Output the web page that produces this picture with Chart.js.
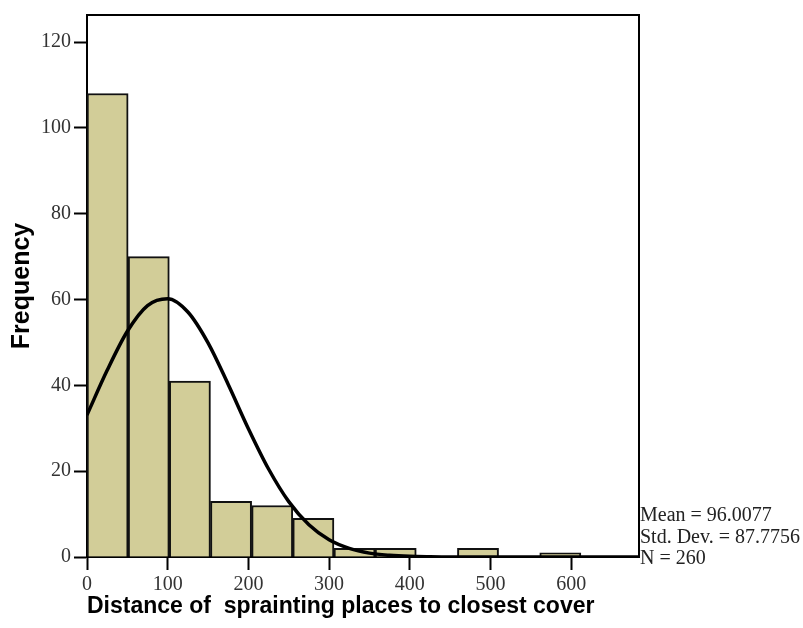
<!DOCTYPE html>
<html>
<head>
<meta charset="utf-8">
<script src="https://cdn.jsdelivr.net/npm/chart.js@4.4.1/dist/chart.umd.min.js"></script>
<style>
  body { margin: 0; background: #fff; }
  #wrap { width: 803px; height: 628px; }
</style>
</head>
<body>
<div id="wrap"><canvas id="histo" width="803" height="628"></canvas></div>
<script>
// histogram bins (width 51), counts
const binCenters = [25.5, 76.5, 127.5, 178.5, 229.5, 280.5, 331.5, 382.5, 433.5, 484.5, 535.5, 586.5];
const binCounts = [108, 70, 41, 13, 12, 9, 2, 2, 0, 2, 0, 1];

// normal curve
const curveX = [0, 25, 50, 75, 100, 125, 150, 175, 200, 225, 250, 275, 300, 325, 350, 375, 400, 425, 450, 500, 550, 600, 650, 684];
const curveY = [33.1, 43.5, 52.6, 58.6, 60.2, 57.1, 49.9, 40.2, 29.9, 20.5, 12.9, 7.5, 4.0, 2.0, 0.9, 0.4, 0.15, 0.05, 0, 0, 0, 0, 0, 0];

const xTicks = [0, 100, 200, 300, 400, 500, 600];
const yTicks = [0, 20, 40, 60, 80, 100, 120];

const statLines = ["Mean = 96.0077", "Std. Dev. = 87.7756", "N = 260"];

const tickFont = { family: "'Liberation Serif', 'DejaVu Serif', serif", size: 20 };

// box on top and right + the stats text
const frameAndStats = {
  id: 'frameAndStats',
  afterDraw(chart) {
    const ctx = chart.ctx;
    const a = chart.chartArea;
    ctx.save();
    ctx.strokeStyle = '#000';
    ctx.lineWidth = 2;
    ctx.beginPath();
    ctx.moveTo(a.left, a.top);
    ctx.lineTo(a.right, a.top);
    ctx.lineTo(a.right, a.bottom);
    ctx.stroke();

    ctx.fillStyle = '#222';
    ctx.font = "20px 'Liberation Serif', serif";
    ctx.textAlign = 'left';
    ctx.textBaseline = 'middle';
    statLines.forEach(function (t, i) {
      ctx.fillText(t, a.right + 1, a.bottom - 41 + i * 21.5);
    });
    ctx.restore();
  }
};

new Chart(document.getElementById('histo'), {
  type: 'bar',
  data: {
    datasets: [
      {
        type: 'line',
        data: curveX.map((x, i) => ({ x: x, y: curveY[i] })),
        borderColor: '#000',
        borderWidth: 3.5,
        pointRadius: 0,
        cubicInterpolationMode: 'monotone',
        fill: false,
        order: 0
      },
      {
        type: 'bar',
        data: binCenters.map((x, i) => ({ x: x, y: binCounts[i] })),
        backgroundColor: 'rgb(210,205,152)',
        borderColor: '#111',
        borderWidth: 2,
        barPercentage: 1,
        categoryPercentage: 1,
        order: 1
      }
    ]
  },
  options: {
    responsive: false,
    animation: false,
    layout: { padding: { left: 0, right: 164, top: 15, bottom: 0 } },
    plugins: { legend: { display: false }, tooltip: { enabled: false } },
    scales: {
      x: {
        type: 'linear',
        min: 0,
        max: 684,
        offset: false,
        afterBuildTicks: (s) => { s.ticks = xTicks.map(v => ({ value: v })); },
        afterFit: (s) => { s.height = 71; },
        ticks: { color: '#333', font: tickFont, padding: 3, maxRotation: 0 },
        grid: { offset: false, drawOnChartArea: false, color: '#000', tickLength: 13, tickWidth: 2 },
        border: { display: true, color: '#000', width: 2 },
        title: {
          display: true,
          align: 'start',
          text: 'Distance of  sprainting places to closest cover',
          color: '#000',
          font: { family: "'Liberation Sans', Arial, sans-serif", size: 23, weight: 'bold' },
          padding: { top: 0, bottom: 8 }
        }
      },
      y: {
        min: 0,
        max: 126.3,
        afterBuildTicks: (s) => { s.ticks = yTicks.map(v => ({ value: v })); },
        afterFit: (s) => { s.width = 87; },
        ticks: { color: '#333', font: tickFont, padding: 3 },
        grid: { drawOnChartArea: false, color: '#000', tickLength: 13, tickWidth: 2 },
        border: { display: true, color: '#000', width: 2 },
        title: {
          display: true,
          text: 'Frequency',
          color: '#000',
          font: { family: "'Liberation Sans', Arial, sans-serif", size: 25, weight: 'bold' },
          padding: { top: 7, bottom: 0 }
        }
      }
    }
  },
  plugins: [frameAndStats]
});
</script>
</body>
</html>
